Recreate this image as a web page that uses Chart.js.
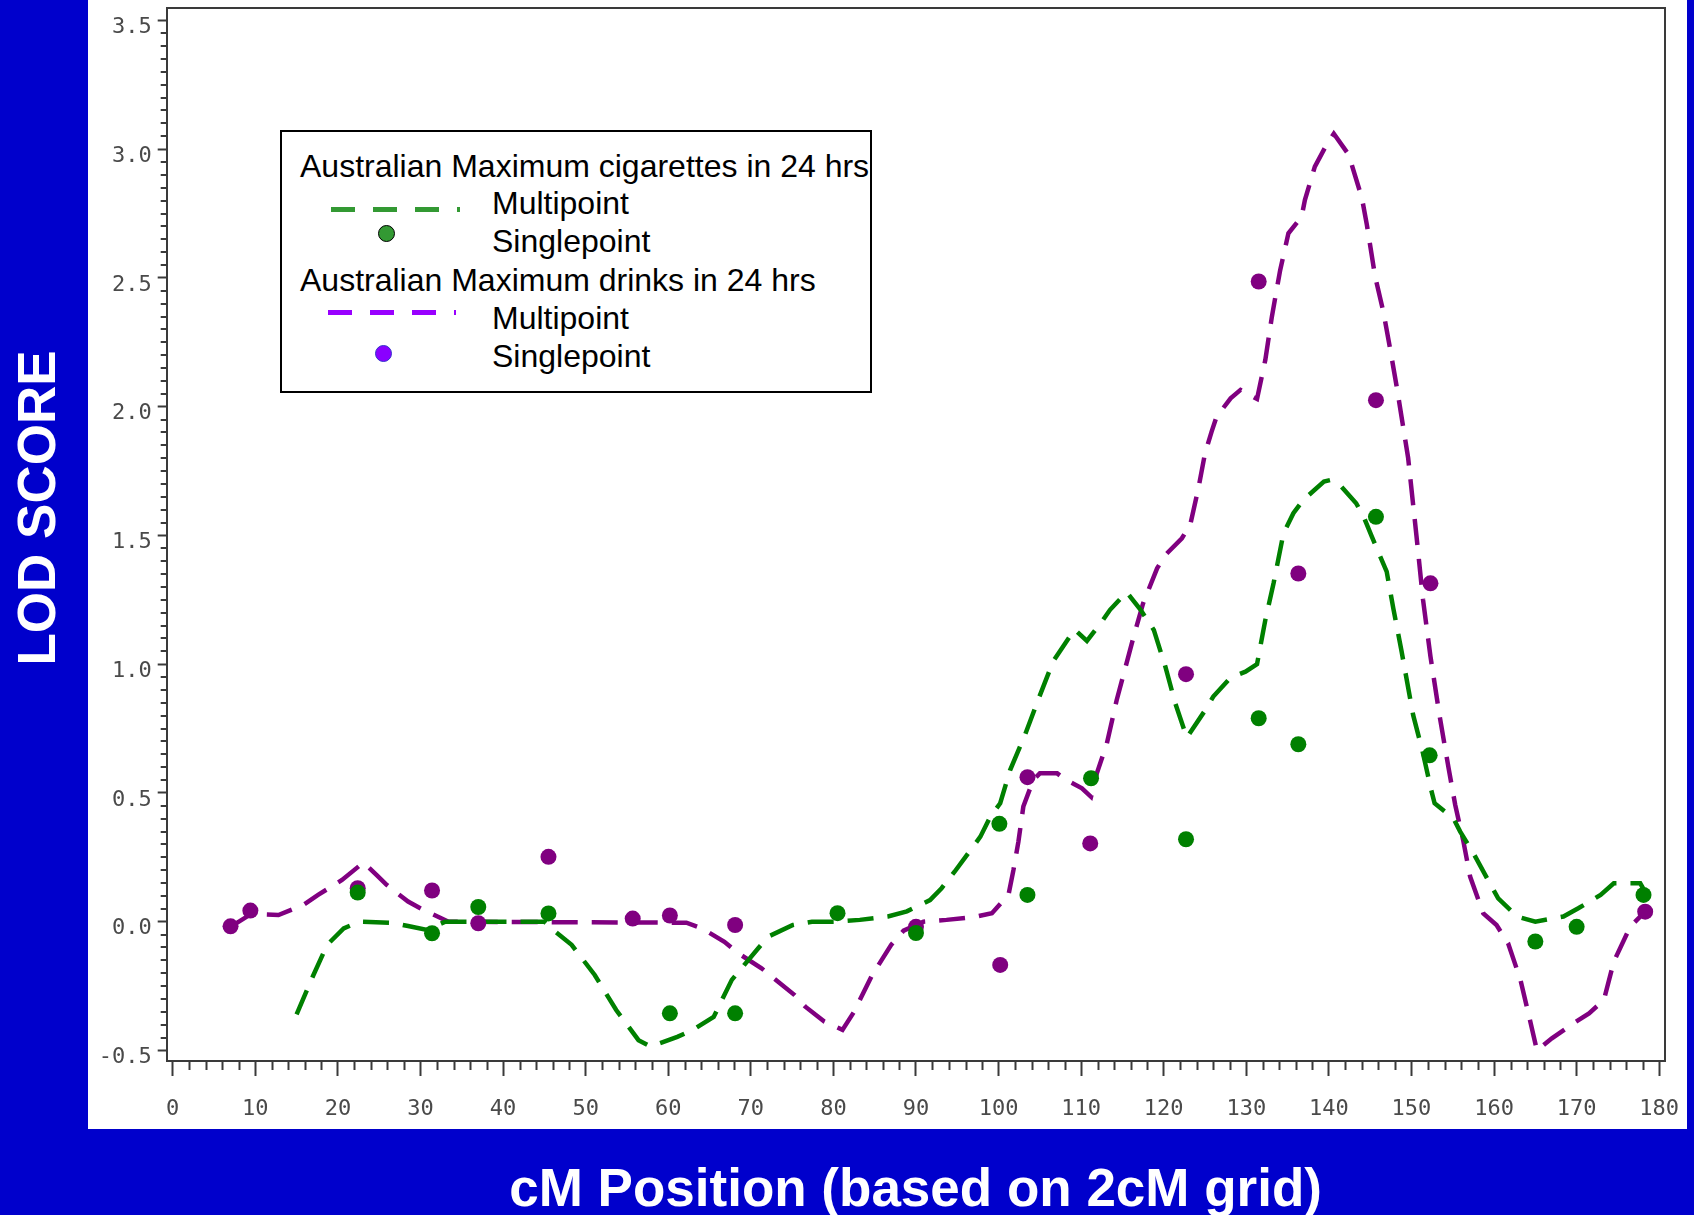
<!DOCTYPE html>
<html>
<head>
<meta charset="utf-8">
<title>LOD score by cM position</title>
<script src="https://cdn.jsdelivr.net/npm/chart.js@4.4.0/dist/chart.umd.min.js"></script>
<style>
    html, body { margin: 0; padding: 0; }
    body {
        width: 1694px; height: 1215px; position: relative; overflow: hidden;
        background: #0000cc; font-family: "Liberation Sans", Arial, sans-serif;
    }
    #plotBox { position: absolute; left: 88px; top: 0; width: 1599px; height: 1129px; background: #fff; }
    #plotBox canvas { display: block; }
    .axis-title { position: absolute; color: #fff; font-weight: bold; font-size: 53px; line-height: 53px; white-space: nowrap; }
    #yTitle { left: 35.6px; top: 507.8px; transform: translate(-50%, -50%) rotate(-90deg); }
    #xTitle { left: 915.6px; top: 1160.6px; transform: translateX(-50%); }

    .legend { position: absolute; left: 280px; top: 130px; width: 592px; height: 263px; box-sizing: border-box;
              border: 2px solid #000; background: #fff; }
    .legend .txt { position: absolute; font-size: 32px; line-height: 31px; color: #000; white-space: nowrap; }
    .legend .dash { position: absolute; height: 5px; }
    .legend .dot { position: absolute; width: 17px; height: 17px; border-radius: 50%; box-sizing: border-box; }
</style>
</head>
<body>

<div id="plotBox"><canvas id="lodChart" width="1599" height="1129"></canvas></div>

<div class="legend">
    <div class="txt" style="left:18px;top:19px;">Australian Maximum cigarettes in 24 hrs</div>
    <div class="dash" style="left:49px;top:75px;width:129px;background:repeating-linear-gradient(to right,#339933 0 24px,transparent 24px 42px);"></div>
    <div class="txt" style="left:210px;top:56px;">Multipoint</div>
    <div class="dot" style="left:96px;top:93px;background:#339933;border:1.5px solid #000;"></div>
    <div class="txt" style="left:210px;top:94px;">Singlepoint</div>
    <div class="txt" style="left:18px;top:133px;">Australian Maximum drinks in 24 hrs</div>
    <div class="dash" style="left:46px;top:178px;width:128px;background:repeating-linear-gradient(to right,#9900ff 0 24px,transparent 24px 42px);"></div>
    <div class="txt" style="left:210px;top:171px;">Multipoint</div>
    <div class="dot" style="left:93px;top:213px;background:#8a00ff;border:1.5px solid #3333cc;"></div>
    <div class="txt" style="left:210px;top:209px;">Singlepoint</div>
</div>

<div id="yTitle" class="axis-title">LOD SCORE</div>
<div id="xTitle" class="axis-title">cM Position (based on 2cM grid)</div>

<script>
// ---- data (cM position, LOD score) ----
const cigMultiCm = [15, 17, 18.7, 20.7, 22.6, 26.5, 28.5, 30.8, 33, 45, 46, 48.3, 51.1, 53.7, 56.4, 57.9,
    61.1, 63, 65.5, 67.7, 70.9, 72.1, 75.1, 77.4, 80.2, 83.2, 86.6, 88.9, 91.7, 93.1, 94.7, 97.8, 99, 100.2,
    101.4, 103.2, 104.8, 106.6, 109.2, 110.7, 112.5, 113.5, 115.5, 117.2, 118.8, 120.2, 121.4, 122.8, 125.1,
    126, 128.1, 129.9, 131.3, 132.3, 133.3, 134.5, 135.7, 136.9, 139.4, 140.2, 141.2, 143.3, 144.2, 145.2,
    147.0, 147.8, 148.8, 150.2, 151.3, 152.4, 152.8, 155.1, 155.9, 157.5, 159.7, 160.5, 162.8, 165, 168.4,
    170.2, 172.9, 174.5, 177.7, 178.5];
const cigMultiLod = [-0.36, -0.21, -0.09, -0.026, 0.0, -0.004, -0.017, -0.032, 0.0, 0.0, -0.03, -0.09, -0.207,
    -0.343, -0.46, -0.485, -0.447, -0.42, -0.37, -0.226, -0.103, -0.058, -0.013, 0.0, 0.0, 0.007, 0.02, 0.04,
    0.084, 0.13, 0.195, 0.33, 0.408, 0.46, 0.589, 0.725, 0.862, 1.01, 1.135, 1.09, 1.165, 1.211, 1.28, 1.211,
    1.133, 0.99, 0.848, 0.715, 0.825, 0.874, 0.948, 0.971, 1.0, 1.171, 1.314, 1.508, 1.586, 1.638, 1.709,
    1.715, 1.7, 1.625, 1.573, 1.495, 1.359, 1.217, 1.05, 0.803, 0.667, 0.51, 0.46, 0.4, 0.35, 0.266, 0.136,
    0.091, 0.02, 0.0, 0.02, 0.052, 0.104, 0.149, 0.149, 0.104];

const cigSingleCm  = [22.4, 31.4, 37.0, 45.5, 60.2, 68.1, 80.5, 90.0, 100.1, 103.5, 111.2, 122.7, 131.5,
    136.3, 145.7, 152.2, 165.0, 170.0, 178.1];
const cigSingleLod = [0.113, -0.045, 0.057, 0.032, -0.356, -0.356, 0.033, -0.044, 0.38, 0.104, 0.557, 0.32,
    0.79, 0.689, 1.572, 0.646, -0.077, -0.02, 0.104];

const drinkMultiCm = [7, 9.5, 12.8, 15.8, 17.6, 20.5, 23.1, 24.7, 25.9, 28.5, 30.4, 33.4, 62.2, 64.1, 66.8,
    68.5, 71.3, 72.8, 75.3, 76.6, 78.9, 81.1, 82.5, 84.7, 87.0, 88.5, 90.9, 93.7, 97.2, 99.2, 101.2, 101.8,
    102.4, 103.0, 104.2, 105, 107.1, 108.2, 110.1, 111.2, 111.9, 113.1, 114.3, 115.3, 116.3, 117.5, 119.2,
    120.2, 122.2, 123.2, 124.2, 125.0, 125.8, 126.4, 128.1, 129.3, 131.3, 132.3, 133.1, 134.1, 135.1, 136.7,
    137.1, 138.3, 139.6, 140.6, 142.4, 144.0, 144.6, 145.6, 146.6, 147.4, 148.2, 148.6, 149.6, 150.6, 151.4,
    152.3, 153.4, 154.5, 155.3, 156.3, 157.1, 158.7, 160.3, 161.7, 163.2, 164.2, 165.2, 167, 169.6, 171.5,
    173.3, 174.5, 176.5, 178.3];
const drinkMultiLod = [-0.02, 0.03, 0.026, 0.065, 0.104, 0.162, 0.23, 0.181, 0.143, 0.078, 0.045, 0.0, -0.004,
    -0.026, -0.078, -0.123, -0.181, -0.22, -0.285, -0.33, -0.388, -0.42, -0.35, -0.207, -0.09, -0.035, 0.0,
    0.007, 0.019, 0.033, 0.104, 0.2, 0.31, 0.447, 0.55, 0.576, 0.576, 0.55, 0.518, 0.485, 0.576, 0.69, 0.86,
    0.98, 1.1, 1.236, 1.372, 1.424, 1.489, 1.54, 1.683, 1.819, 1.903, 1.961, 2.032, 2.065, 2.03, 2.181, 2.35,
    2.53, 2.673, 2.738, 2.803, 2.932, 3.01, 3.06, 2.978, 2.81, 2.706, 2.505, 2.368, 2.227, 2.08, 2.0, 1.8,
    1.5, 1.25, 1.03, 0.8, 0.595, 0.453, 0.31, 0.175, 0.032, -0.013, -0.084, -0.226, -0.362, -0.5, -0.453,
    -0.395, -0.356, -0.304, -0.155, -0.019, 0.039];

const drinkSingleCm  = [7.0, 9.4, 22.4, 31.4, 37.0, 45.5, 55.7, 60.2, 68.1, 90.0, 100.2, 103.5, 111.1, 122.7,
    131.5, 136.3, 145.7, 152.3, 178.3];
const drinkSingleLod = [-0.018, 0.043, 0.13, 0.121, -0.006, 0.252, 0.012, 0.024, -0.013, -0.02, -0.168, 0.561,
    0.304, 0.961, 2.486, 1.352, 2.025, 1.314, 0.039];

const xTickLabels = [0, 10, 20, 30, 40, 50, 60, 70, 80, 90, 100, 110, 120, 130, 140, 150, 160, 170, 180];
const yTickLabels = ['-0.5', '0.0', '0.5', '1.0', '1.5', '2.0', '2.5', '3.0', '3.5'];

const GREEN  = '#008000';
const PURPLE = '#800080';
const AXIS   = '#3a3a3a';
const TICK_TEXT = '#4a4a4a';

function toPoints(xs, ys) {
    return xs.map((x, i) => ({ x: x, y: ys[i] }));
}
function isMajorX(v) { return xTickLabels.includes(Math.round(v * 100) / 100); }
function isMajorY(v) { return yTickLabels.includes((Math.round(v * 100) / 100).toFixed(1)) && Math.abs(v * 2 - Math.round(v * 2)) < 1e-6; }

// frame on top/right plus the short minor ticks
const frameAndMinorTicks = {
    id: 'frameAndMinorTicks',
    afterDraw(chart) {
        const { ctx, chartArea: a, scales: { x, y } } = chart;
        ctx.save();
        ctx.strokeStyle = AXIS;
        ctx.lineWidth = 2;
        ctx.beginPath();
        ctx.moveTo(a.left, a.top);
        ctx.lineTo(a.right, a.top);
        ctx.lineTo(a.right, a.bottom);
        ctx.stroke();

        ctx.lineWidth = 2;
        ctx.beginPath();
        x.ticks.forEach(t => {
            if (isMajorX(t.value)) return;
            const px = Math.round(x.getPixelForValue(t.value)) + 0.5;
            ctx.moveTo(px, a.bottom);
            ctx.lineTo(px, a.bottom + 9);
        });
        y.ticks.forEach(t => {
            if (isMajorY(t.value)) return;
            const py = Math.round(y.getPixelForValue(t.value));
            ctx.moveTo(a.left, py);
            ctx.lineTo(a.left - 6, py);
        });
        ctx.stroke();
        ctx.restore();
    }
};

document.addEventListener('DOMContentLoaded', function () {
    const ctx = document.getElementById('lodChart');

    new Chart(ctx, {
        type: 'line',
        data: {
            datasets: [
                { label: 'Cigarettes singlepoint', data: toPoints(cigSingleCm, cigSingleLod), showLine: false,
                  pointRadius: 8, pointBackgroundColor: GREEN, pointBorderColor: GREEN, pointBorderWidth: 0 },
                { label: 'Drinks singlepoint', data: toPoints(drinkSingleCm, drinkSingleLod), showLine: false,
                  pointRadius: 8, pointBackgroundColor: PURPLE, pointBorderColor: PURPLE, pointBorderWidth: 0 },
                { label: 'Cigarettes multipoint', data: toPoints(cigMultiCm, cigMultiLod), borderColor: GREEN,
                  borderWidth: 4.5, borderDash: [26, 14], pointRadius: 0, tension: 0, fill: false },
                { label: 'Drinks multipoint', data: toPoints(drinkMultiCm, drinkMultiLod), borderColor: PURPLE,
                  borderWidth: 4.5, borderDash: [26, 14], pointRadius: 0, tension: 0, fill: false }
            ]
        },
        options: {
            responsive: false,
            animation: false,
            layout: { padding: { top: 8, right: 22, left: 0, bottom: 0 } },
            plugins: { legend: { display: false }, tooltip: { enabled: false } },
            scales: {
                x: {
                    type: 'linear', min: -0.73, max: 180.7,
                    afterFit: s => { s.height = 68; s.paddingLeft = 0; s.paddingRight = 0; },
                    border: { display: true, color: AXIS, width: 2 },
                    grid: {
                        drawOnChartArea: false, drawTicks: true, tickLength: 15, tickWidth: 2,
                        tickColor: c => (c.tick && isMajorX(c.tick.value)) ? AXIS : 'rgba(0,0,0,0)'
                    },
                    ticks: {
                        stepSize: 2, includeBounds: false, autoSkip: false, maxRotation: 0, minRotation: 0,
                        padding: 20, color: TICK_TEXT,
                        font: { family: '"DejaVu Sans Mono", monospace', size: 22 },
                        callback: v => isMajorX(v) ? String(Math.round(v)) : ''
                    }
                },
                y: {
                    type: 'linear', min: -0.541, max: 3.548,
                    afterFit: s => { s.width = 78.7; s.paddingTop = 0; s.paddingBottom = 0; },
                    border: { display: true, color: AXIS, width: 2 },
                    grid: {
                        drawOnChartArea: false, drawTicks: true, tickLength: 9, tickWidth: 2,
                        tickColor: c => (c.tick && isMajorY(c.tick.value)) ? AXIS : 'rgba(0,0,0,0)'
                    },
                    ticks: {
                        stepSize: 0.05, includeBounds: false, autoSkip: false, padding: 6, labelOffset: 7,
                        color: TICK_TEXT,
                        font: { family: '"DejaVu Sans Mono", monospace', size: 22 },
                        callback: v => isMajorY(v) ? (Math.round(v * 10) / 10).toFixed(1) : ''
                    }
                }
            }
        },
        plugins: [frameAndMinorTicks]
    });
});
</script>
</body>
</html>
